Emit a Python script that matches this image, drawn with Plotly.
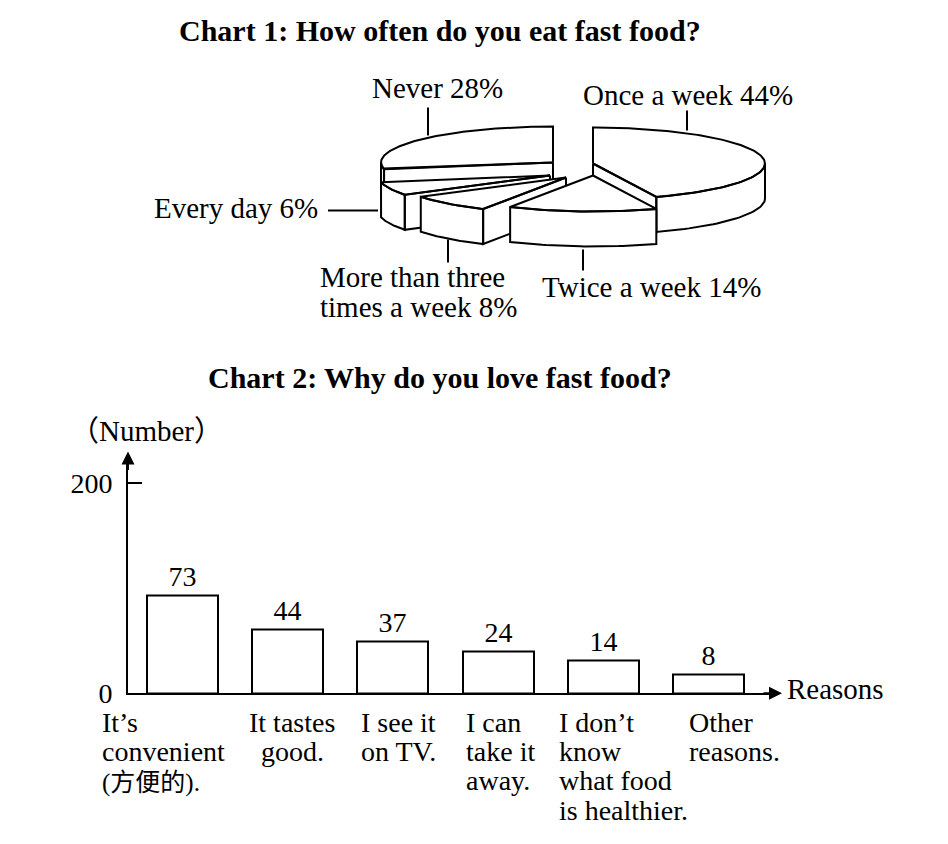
import numpy as np
import plotly.graph_objects as go

# Chart 1 data (clockwise from the top of the pie)
pie_labels = ["Once a week", "Twice a week", "More than three<br>times a week", "Every day", "Never"]
pie_percent = [44, 14, 8, 6, 28]

# Chart 2 data
reasons = [
    "It’s<br>convenient<br>(方便的).",
    "It tastes<br>good.",
    "I see it<br>on TV.",
    "I can<br>take it<br>away.",
    "I don’t<br>know<br>what food<br>is healthier.",
    "Other<br>reasons.",
]
counts = [73, 44, 37, 24, 14, 8]
# bar heights as drawn in the picture, read against the 0-200 axis
bar_heights = [93, 61, 49, 40, 31, 18]

SERIF = "Liberation Serif, Times New Roman, Noto Sans CJK SC, serif"
# page is 948x844 with the default 8px body margin around the plot
PAD = 8
W, H = 948 - 2 * PAD, 844 - 2 * PAD
# measured vertical mapping of the photographed page (page y -> picture y)
VA, VB = 0.6, 0.981

# pie drawing style (picture pixels)
RX, RY, DEPTH = 172, 36, 35
slice_apex = [(593, 164), (593, 176), (566, 178), (550, 176), (553, 163)]
label_pos = [  # x, y, xanchor
    (688, 95, "center"), (540, 288, "left"), (318, 278, "left"),
    (320, 209, "right"), (437, 88, "center"),
]
leaders = [
    ((687, 111), (687, 131)), ((583, 250), (583, 271)), ((448, 240), (448, 263)),
    ((328, 211), (378, 211)), ((428, 108), (428, 136)),
]


def pt(cx, cy, deg, dy=0.0):
    t = np.radians(deg)
    return cx + RX * np.sin(t), cy - RY * np.cos(t) + dy


def slice_faces(cx, cy, a1, a2):
    """Front faces + top face of one extruded pie wedge, as polygons."""
    polys = []
    lo, hi = max(a1, 90), min(a2, 270)
    if hi > lo:
        ts = np.linspace(lo, hi, 40)
        top = [pt(cx, cy, t) for t in ts]
        bot = [pt(cx, cy, t, DEPTH) for t in ts[::-1]]
        polys.append(top + bot)
    for a, side in ((a1, -1), (a2, 1)):
        s = np.sin(np.radians(a))
        if s * side > 1e-6:
            px, py = pt(cx, cy, a)
            polys.append([(cx, cy), (px, py), (px, py + DEPTH), (cx, cy + DEPTH)])
    ts = np.linspace(a1, a2, max(int(a2 - a1), 8))
    polys.append([(cx, cy)] + [pt(cx, cy, t) for t in ts])
    return polys


fig = go.Figure()

# ---- Chart 2: bars ----
fig.add_trace(go.Bar(
    x=list(range(len(counts))), y=bar_heights,
    text=[str(c) for c in counts], textposition="outside",
    textfont=dict(family=SERIF, size=28, color="black"),
    marker=dict(color="white", line=dict(color="black", width=2)),
    width=0.675, cliponaxis=False, showlegend=False, hoverinfo="skip",
    xaxis="x", yaxis="y",
))

# ---- Chart 1: 3D exploded pie, back slices first ----
starts = np.concatenate([[0], np.cumsum(pie_percent)[:-1]]) * 3.6
ends = np.cumsum(pie_percent) * 3.6
mids = (starts + ends) / 2
depth = [slice_apex[i][1] - 0.5 * RY * np.cos(np.radians(mids[i])) for i in range(len(pie_percent))]
for i in np.argsort(depth):
    cx, cy = slice_apex[i]
    xs, ys = [], []
    for poly in slice_faces(cx, cy, starts[i], ends[i]):
        xs += [p[0] for p in poly] + [poly[0][0], None]
        ys += [p[1] for p in poly] + [poly[0][1], None]
    fig.add_trace(go.Scatter(
        x=xs, y=ys, mode="lines", fill="toself", fillcolor="white",
        line=dict(color="black", width=2), showlegend=False, hoverinfo="skip",
        xaxis="x2", yaxis="y2",
    ))

annotations = []
shapes = []


def text(x, y, s, size=29, anchor="center", bold=False):
    annotations.append(dict(
        x=x, y=y, xref="x2", yref="y2", text=f"<b>{s}</b>" if bold else s,
        showarrow=False, xanchor=anchor, yanchor="middle",
        font=dict(family=SERIF, size=size, color="black"),
    ))


text(440, 31, "Chart 1: How often do you eat fast food?", size=30, bold=True)
text(440, 378, "Chart 2: Why do you love fast food?", size=30, bold=True)

for i, lab in enumerate(pie_labels):
    lines = lab.split("<br>")
    lines[-1] += f" {pie_percent[i]}%"
    x, y, anc = label_pos[i]
    for j, ln in enumerate(lines):
        text(x, y + 30 * j, ln, anchor=anc)
    (x0, y0), (x1, y1) = leaders[i]
    shapes.append(dict(type="line", xref="x2", yref="y2", x0=x0, y0=y0, x1=x1, y1=y1,
                       line=dict(color="black", width=2)))

# category labels under the bars
cat_pos = [(100, "left"), (292, "center"), (438, "right"), (464, "left"), (557, "left"), (687, "left")]
for i, lab in enumerate(reasons):
    x, anc = cat_pos[i]
    for j, ln in enumerate(lab.split("<br>")):
        cjk = any(ord(ch) > 0x2E80 for ch in ln)
        text(x, 723 + 29.3 * j + (2 if cjk else 0), ln, size=25 if cjk else 28, anchor=anc)

text(146, 432, "（Number）", size=29)
text(785, 690, "Reasons", anchor="left")

# axis arrowheads
for tip, tail in (((128, 452), (128, 472)), ((782, 694), (762, 694))):
    annotations.append(dict(
        x=tip[0], y=tip[1], ax=tail[0], ay=tail[1], xref="x2", yref="y2",
        axref="x2", ayref="y2", text="", showarrow=True, arrowhead=2,
        arrowsize=1.3, arrowwidth=2, arrowcolor="black",
    ))

# bar axes placement (picture pixels -> paper)
x_left, x_right = 128, 772
y_base, y_200, y_top = 694, 484, 462
px_per_unit = (y_base - y_200) / 200
ymax = (y_base - y_top) / px_per_unit
cat0, step = 182.5, 105.2


def px(x):
    return (x - PAD) / W


def py(y):
    return 1 - ((y - VA) / VB - PAD) / H


fig.update_layout(
    width=W, height=H, autosize=False,
    margin=dict(l=0, r=0, t=0, b=0),
    paper_bgcolor="white", plot_bgcolor="rgba(0,0,0,0)",
    xaxis=dict(
        domain=[px(x_left), px(x_right)], anchor="y",
        range=[(x_left - cat0) / step, (x_right - cat0) / step],
        showline=True, linecolor="black", linewidth=2, showgrid=False,
        zeroline=False, showticklabels=False, ticks="", fixedrange=True,
    ),
    yaxis=dict(
        domain=[py(y_base), py(y_top)], anchor="x",
        range=[0, ymax], showline=True, linecolor="black", linewidth=2,
        showgrid=False, zeroline=False, tickvals=[0, 200], ticktext=["0", "200"],
        ticks="inside", ticklen=14, tickwidth=2, tickcolor="black",
        ticklabelstandoff=8,
        tickfont=dict(family=SERIF, size=28, color="black"), fixedrange=True,
    ),
    xaxis2=dict(domain=[0, 1], anchor="y2", range=[PAD, PAD + W], visible=False, fixedrange=True),
    yaxis2=dict(domain=[0, 1], anchor="x2", range=[VA + VB * (PAD + H), VA + VB * PAD],
                visible=False, fixedrange=True),
    annotations=annotations,
    shapes=shapes,
    bargap=0,
)

fig.write_html("out.html")
